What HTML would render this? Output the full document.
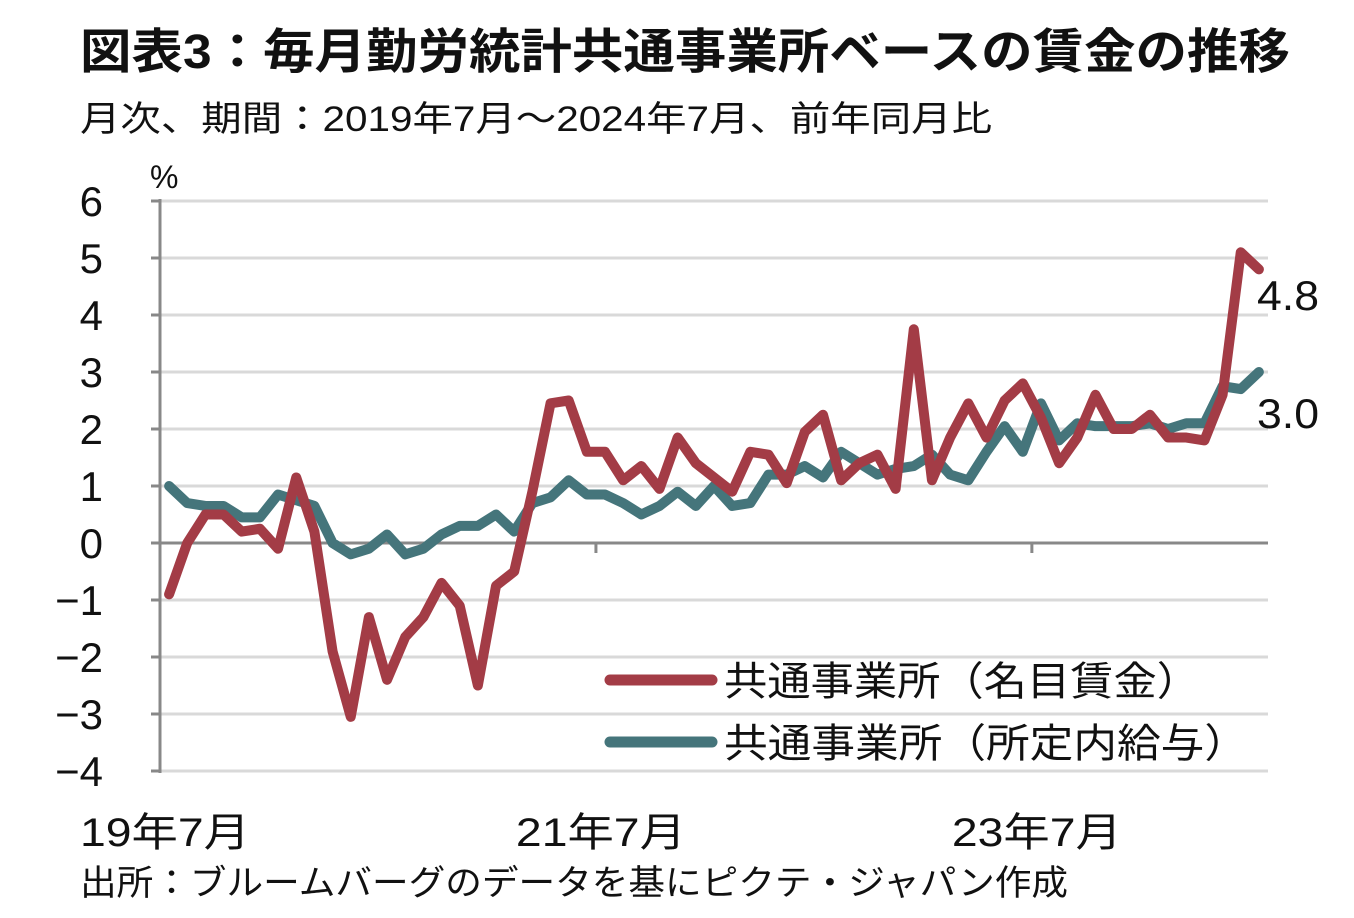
<!DOCTYPE html>
<html><head><meta charset="utf-8"><style>
body{margin:0;background:#fff;}
svg text{font-family:"Liberation Sans","Noto Sans CJK JP",sans-serif;fill:#111;}
</style></head><body>
<svg id="chart" width="1354" height="913" viewBox="0 0 1354 913">
<text x="80" y="68" font-size="48" font-weight="bold" textLength="1210" lengthAdjust="spacingAndGlyphs">図表3：毎月勤労統計共通事業所ベースの賃金の推移</text>
<text x="80" y="131" font-size="35" textLength="912" lengthAdjust="spacingAndGlyphs">月次、期間：2019年7月～2024年7月、前年同月比</text>
<text x="150" y="188" font-size="32">%</text>
<g id="grid"></g><g id="axes"></g><g id="series"></g>
<text x="1257" y="310" font-size="42" textLength="62" lengthAdjust="spacingAndGlyphs">4.8</text>
<text x="1257" y="428" font-size="42" textLength="62" lengthAdjust="spacingAndGlyphs">3.0</text>
<g>
<line x1="610" y1="680" x2="712" y2="680" stroke="#a33c46" stroke-width="11" stroke-linecap="round"/>
<text x="724" y="695" font-size="40" textLength="476" lengthAdjust="spacingAndGlyphs">共通事業所（名目賃金）</text>
<line x1="610" y1="742" x2="712" y2="742" stroke="#45757b" stroke-width="11" stroke-linecap="round"/>
<text x="724" y="757" font-size="40" textLength="524" lengthAdjust="spacingAndGlyphs">共通事業所（所定内給与）</text>
</g>
<text x="80" y="895" font-size="35" textLength="988" lengthAdjust="spacingAndGlyphs">出所：ブルームバーグのデータを基にピクテ・ジャパン作成</text>
</svg>
<script>
const yTicks=[6,5,4,3,2,1,0,-1,-2,-3,-4];
const yTickLabels=["6","5","4","3","2","1","0","−1","−2","−3","−4"];
const xTickIdx=[0,24,48];
const xTickLabels=["19年7月","21年7月","23年7月"];
const nominal=[-0.9,0,0.5,0.5,0.2,0.25,-0.1,1.15,0.2,-1.9,-3.05,-1.3,-2.4,-1.65,-1.3,-0.7,-1.1,-2.5,-0.75,-0.5,0.9,2.45,2.5,1.6,1.6,1.1,1.35,0.95,1.85,1.4,1.15,0.9,1.6,1.55,1.05,1.95,2.25,1.1,1.4,1.55,0.95,3.75,1.1,1.85,2.45,1.85,2.5,2.8,2.2,1.4,1.85,2.6,2.0,2.0,2.25,1.85,1.85,1.8,2.6,5.1,4.8];
const scheduled=[1.0,0.7,0.65,0.65,0.45,0.45,0.85,0.75,0.65,0.0,-0.2,-0.1,0.15,-0.2,-0.1,0.15,0.3,0.3,0.5,0.2,0.7,0.8,1.1,0.85,0.85,0.7,0.5,0.65,0.9,0.65,1.0,0.65,0.7,1.2,1.2,1.35,1.15,1.6,1.4,1.2,1.3,1.35,1.55,1.2,1.1,1.6,2.05,1.6,2.45,1.8,2.1,2.05,2.05,2.05,2.1,2.0,2.1,2.1,2.75,2.7,3.0];
const NS="http://www.w3.org/2000/svg";
const x0=160,x1=1268,n=61,step=(x1-x0)/n;
const yS=v=>543-v*57;
const xS=i=>x0+step*(i+0.5);
function mk(t,a,p){const e=document.createElementNS(NS,t);for(const k in a)e.setAttribute(k,a[k]);p.appendChild(e);return e;}
const grid=document.getElementById('grid'),axes=document.getElementById('axes'),ser=document.getElementById('series');
yTicks.forEach((v,k)=>{
 if(v!==0){const g=mk('line',{x1:x0,x2:x1,y1:yS(v),y2:yS(v),stroke:'#d9d9d9','stroke-width':3},grid);
 
 }
 mk('line',{x1:x0-9,x2:x0,y1:yS(v),y2:yS(v),stroke:'#888','stroke-width':3},axes);
 const t=mk('text',{x:103,y:yS(v)+15,'font-size':42,'text-anchor':'end'},axes);t.textContent=yTickLabels[k];
 
 
});
mk('line',{x1:x0,x2:x0,y1:yS(6)-2,y2:yS(-4)+2,stroke:'#888','stroke-width':3},axes);
const z=mk('line',{x1:x0,x2:x1,y1:yS(0),y2:yS(0),stroke:'#888','stroke-width':3},axes);


xTickIdx.forEach((i,k)=>{const xx=x0+step*i;
 mk('line',{x1:xx,x2:xx,y1:yS(0),y2:yS(0)+10,stroke:'#888','stroke-width':3},axes);
 const t=mk('text',{x:k===0?80:xx-80,y:846,'font-size':40,textLength:170,lengthAdjust:'spacingAndGlyphs'},axes);t.textContent=xTickLabels[k];
 
 
});
function line(d,c,name){const p=mk('polyline',{points:d.map((v,i)=>xS(i)+','+yS(v)).join(' '),fill:'none',stroke:c,'stroke-width':10,'stroke-linejoin':'round','stroke-linecap':'round'},ser);
 
 }
line(scheduled,'#45757b','series-scheduled');
line(nominal,'#a33c46','series-nominal');
</script>
</body></html>
